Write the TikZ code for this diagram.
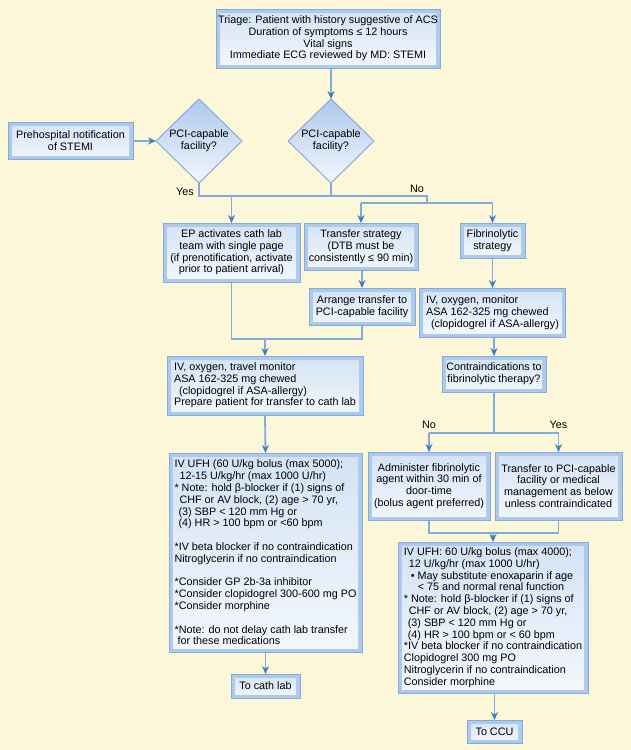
\documentclass[tikz,border=0pt]{standalone}
\usepackage{fontspec}
\setmainfont{Liberation Sans}
\usetikzlibrary{shapes.geometric,arrows.meta}
\definecolor{bg}{HTML}{FDF7DA}
\definecolor{boxedge}{HTML}{86ABDA}
\definecolor{boxband}{HTML}{ADC9EB}
\definecolor{boxtop}{HTML}{D3E3F5}
\definecolor{boxbot}{HTML}{F3F7FC}
\definecolor{linec}{HTML}{80ACDC}
\definecolor{tipc}{HTML}{3D7DC0}
\tikzset{
  basetxt/.style={font=\fontsize{10.8}{11.8}\selectfont, text=black, inner sep=0pt, outer sep=0pt},
  abox/.style={basetxt, rectangle, draw=boxedge, line width=1pt, fill=boxband, align=center,
    path picture={\fill[top color=boxtop, bottom color=boxbot]
      ([shift={(4pt,-4pt)}]path picture bounding box.north west) rectangle
      ([shift={(-4pt,4pt)}]path picture bounding box.south east);}},
  lbox/.style={abox, align=left},
  dia/.style={basetxt, diamond, draw=boxedge, line width=1pt, top color=boxband, bottom color=boxbot, align=center, aspect=1},
  conn/.style={draw=linec, line width=1.8pt},
  arr/.style={draw=linec, line width=1.8pt, -{Stealth[length=8pt,width=7pt,color=tipc]}},
  lab/.style={basetxt}
}
\begin{document}
\begin{tikzpicture}[x=1pt,y=-1pt]
\fill[bg] (0,0) rectangle (631,750);
\useasboundingbox (0,0) rectangle (631,750);

\node[abox, minimum width=224pt, minimum height=59pt] (top) at (328,38.5)
  {Triage: Patient with history suggestive of ACS\\Duration of symptoms ≤ 12 hours\\Vital signs\\Immediate ECG reviewed by MD: STEMI};
\node[dia, minimum width=86pt, minimum height=84pt] (d1) at (199,141) {PCI-capable\\facility?};
\node[dia, minimum width=86pt, minimum height=84pt] (d2) at (331,141) {PCI-capable\\facility?};
\node[abox, minimum width=125pt, minimum height=37pt] (pre) at (70.5,141) {Prehospital notification\\of STEMI};

\node[abox, minimum width=137pt, minimum height=59pt] (ep) at (231.5,252.5)
  {EP activates cath lab\\team with single page\\(if prenotification, activate\\prior to patient arrival)};
\node[abox, minimum width=114pt, minimum height=47pt] (ts) at (361,246.5)
  {Transfer strategy\\(DTB must be\\consistently ≤ 90 min)};
\node[abox, minimum width=65pt, minimum height=35pt] (fs) at (492.5,240.5) {Fibrinolytic\\strategy};
\node[abox, minimum width=106pt, minimum height=37pt] (arng) at (362,306.5) {Arrange transfer to\\PCI-capable facility};
\node[lbox, minimum width=146pt, minimum height=49pt] (ivr) at (492.5,312.5)
  {IV, oxygen, monitor\\ASA 162-325 mg chewed\\\hspace*{5pt}(clopidogrel if ASA-allergy)};
\node[abox, minimum width=104pt, minimum height=36pt] (ct) at (494,374) {Contraindications to\\fibrinolytic therapy?};
\node[lbox, minimum width=196pt, minimum height=59pt] (ivl) at (265,385.5)
  {IV, oxygen, travel monitor\\ASA 162-325 mg chewed\\\hspace*{5pt}(clopidogrel if ASA-allergy)\\Prepare patient for transfer to cath lab};

\node[lbox, minimum width=193pt, minimum height=199pt] (big) at (265.5,552.5)
  {IV UFH (60 U/kg bolus (max 5000);\\
   \hspace*{5pt}12-15 U/kg/hr (max 1000 U/hr)\\
   {*} Note: hold β-blocker if (1) signs of\\
   \hspace*{5pt}CHF or AV block, (2) age > 70 yr,\\
   \hspace*{4pt}(3) SBP < 120 mm Hg or\\
   \hspace*{4pt}(4) HR > 100 bpm or <60 bpm\\[11.8pt]
   {*}IV beta blocker if no contraindication\\
   Nitroglycerin if no contraindication\\[11.8pt]
   {*}Consider GP 2b-3a inhibitor\\
   {*}Consider clopidogrel 300-600 mg PO\\
   {*}Consider morphine\\[11.8pt]
   {*}Note: do not delay cath lab transfer\\
   \hspace*{3pt}for these medications};
\node[abox, minimum width=69pt, minimum height=24pt] (cath) at (265.5,686) {To cath lab};

\node[abox, minimum width=122pt, minimum height=68pt] (adm) at (429,486)
  {Administer fibrinolytic\\agent within 30 min of\\door-time\\(bolus agent preferred)};
\node[abox, minimum width=127pt, minimum height=68pt] (tp) at (558.5,486)
  {Transfer to PCI-capable\\facility or medical\\management as below\\unless contraindicated};
\node[lbox, minimum width=190pt, minimum height=151pt] (rb) at (493,617.5)
  {IV UFH: 60 U/kg bolus (max 4000);\\
   \hspace*{5pt}12 U/kg/hr (max 1000 U/hr)\\
   \hspace*{7pt}• May substitute enoxaparin if age\\
   \hspace*{14pt}< 75 and normal renal function\\
   {*} Note: hold β-blocker if (1) signs of\\
   \hspace*{5pt}CHF or AV block, (2) age > 70 yr,\\
   \hspace*{4pt}(3) SBP < 120 mm Hg or\\
   \hspace*{4pt}(4) HR > 100 bpm or < 60 bpm\\
   {*}IV beta blocker if no contraindication\\
   Clopidogrel 300 mg PO\\
   Nitroglycerin if no contraindication\\
   Consider morphine};
\node[abox, minimum width=55pt, minimum height=23pt] (ccu) at (494.5,731.5) {To CCU};

% labels
\node[lab] (yes1) at (185,192) {Yes};
\node[lab] (no1) at (417,189) {No};
\node[lab] (no2) at (429,425) {No};
\node[lab] (yes2) at (558.5,425) {Yes};

% coordinates
\coordinate (yr) at (427,196);
\coordinate (ns) at (427,203);
\coordinate (lm) at (265,339);
\coordinate (cs) at (494,433);
\coordinate (rm) at (493,533);

% connectors
\draw[arr] (d2.north |- top.south) -- (d2.north);
\draw[arr] (pre.east) -- (pre.east -| d1.west);
\draw[conn] (d1.south) |- (yr) -- (ns);
\draw[conn] (d2.south) -- (d2.south |- yr);
\draw[arr] (ep.north |- yr) -- (ep.north);
\draw[conn] (ts.north |- ns) -- (fs.north |- ns);
\draw[arr] (ts.north |- ns) -- (ts.north);
\draw[arr] (fs.north |- ns) -- (fs.north);
\draw[arr] (arng.north |- ts.south) -- (arng.north);
\draw[arr] (ivr.north |- fs.south) -- (ivr.north);
\draw[conn] (ep.south) |- (arng.south |- lm) -- (arng.south);
\draw[arr] (ivl.north |- lm) -- (ivl.north);
\draw[arr] (ct.north |- ivr.south) -- (ct.north);
\draw[conn] (ct.south) -- (ct.south |- cs);
\draw[conn] (adm.north |- cs) -- (tp.north |- cs);
\draw[arr] (adm.north |- cs) -- (adm.north);
\draw[arr] (tp.north |- cs) -- (tp.north);
\draw[conn] (adm.south) |- (tp.south |- rm) -- (tp.south);
\draw[arr] (rb.north |- rm) -- (rb.north);
\draw[arr] (ivl.south) -- (big.north);
\draw[arr] (big.south) -- (cath.north);
\draw[arr] (ccu.north |- rb.south) -- (ccu.north);
\end{tikzpicture}
\end{document}
